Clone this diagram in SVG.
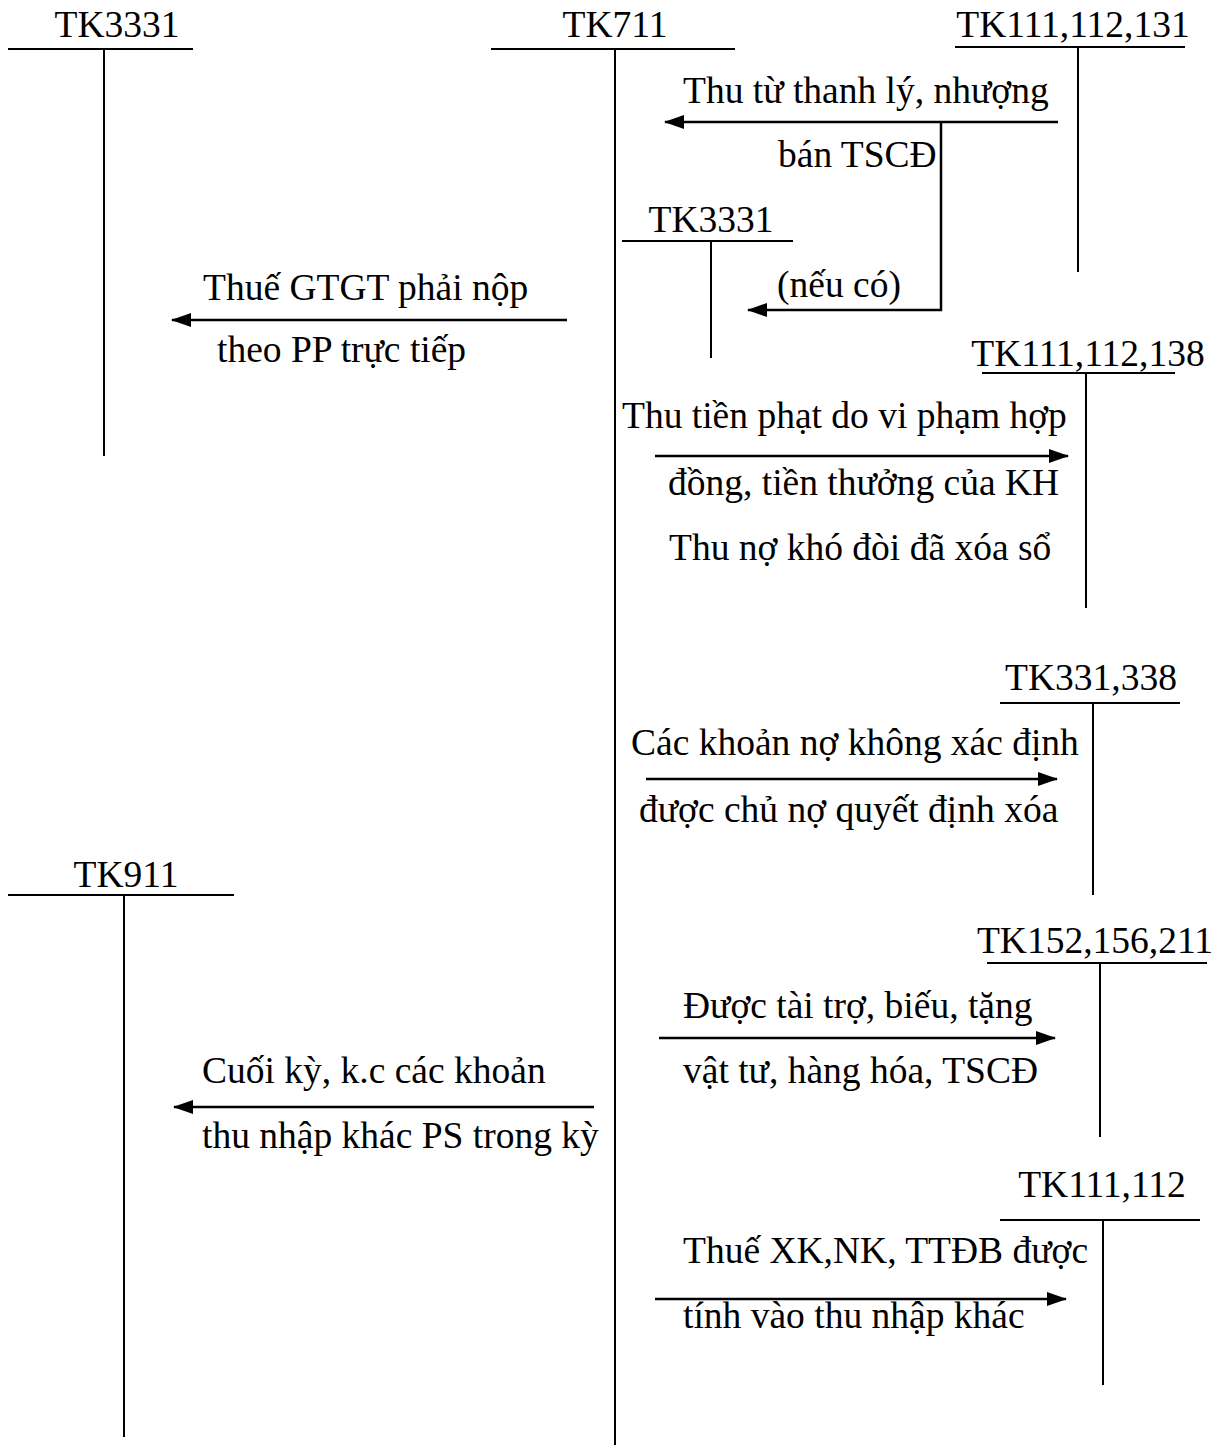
<svg xmlns="http://www.w3.org/2000/svg" width="1224" height="1447" viewBox="0 0 1224 1447">
<style>
text{font-family:"Liberation Serif","Times New Roman",serif;font-size:37.5px;fill:#000}
.t{stroke:#000;stroke-width:2;fill:none}
.c{stroke:#000;stroke-width:2.5;fill:none}
</style>
<defs>
<marker id="ah" markerWidth="20" markerHeight="14" refX="19" refY="7" orient="auto" markerUnits="userSpaceOnUse">
<path d="M0,0 L20,7 L0,14 Z" fill="#000"/>
</marker>
</defs>
<rect width="1224" height="1447" fill="#fff"/>
<g id="tk3331-left">
<text x="117" y="37" text-anchor="middle">TK3331</text>
<line class="t" x1="8" y1="49" x2="193" y2="49"/>
<line class="t" x1="104" y1="49" x2="104" y2="456"/>
</g>
<g id="tk711">
<text x="615" y="37" text-anchor="middle">TK711</text>
<line class="t" x1="491" y1="49" x2="735" y2="49"/>
<line class="t" x1="615" y1="49" x2="615" y2="1445"/>
</g>
<g id="tk111-112-131">
<text x="1073" y="37" text-anchor="middle">TK111,112,131</text>
<line class="t" x1="955" y1="47" x2="1185" y2="47"/>
<line class="t" x1="1078" y1="47" x2="1078" y2="272"/>
</g>
<g id="tk3331-small">
<text x="711" y="232" text-anchor="middle">TK3331</text>
<line class="t" x1="622" y1="241" x2="793" y2="241"/>
<line class="t" x1="711" y1="241" x2="711" y2="358"/>
</g>
<g id="tk111-112-138">
<text x="1088" y="366" text-anchor="middle">TK111,112,138</text>
<line class="t" x1="982" y1="373" x2="1175" y2="373"/>
<line class="t" x1="1086" y1="373" x2="1086" y2="608"/>
</g>
<g id="tk331-338">
<text x="1091" y="690" text-anchor="middle">TK331,338</text>
<line class="t" x1="1000" y1="703" x2="1180" y2="703"/>
<line class="t" x1="1093" y1="703" x2="1093" y2="895"/>
</g>
<g id="tk911">
<text x="126" y="887" text-anchor="middle">TK911</text>
<line class="t" x1="8" y1="895" x2="234" y2="895"/>
<line class="t" x1="124" y1="895" x2="124" y2="1437"/>
</g>
<g id="tk152-156-211">
<text x="1095" y="953" text-anchor="middle">TK152,156,211</text>
<line class="t" x1="987" y1="963" x2="1207" y2="963"/>
<line class="t" x1="1100" y1="963" x2="1100" y2="1137"/>
</g>
<g id="tk111-112">
<text x="1102" y="1197" text-anchor="middle">TK111,112</text>
<line class="t" x1="1000" y1="1220" x2="1200" y2="1220"/>
<line class="t" x1="1103" y1="1220" x2="1103" y2="1385"/>
</g>
<g id="connectors">
<line class="c" x1="1058" y1="122" x2="665" y2="122" marker-end="url(#ah)"/>
<polyline class="c" points="941,122 941,310 748,310" marker-end="url(#ah)"/>
<line class="c" x1="567" y1="320" x2="172" y2="320" marker-end="url(#ah)"/>
<line class="c" x1="655" y1="456" x2="1068" y2="456" marker-end="url(#ah)"/>
<line class="c" x1="646" y1="779" x2="1057" y2="779" marker-end="url(#ah)"/>
<line class="c" x1="659" y1="1038" x2="1055" y2="1038" marker-end="url(#ah)"/>
<line class="c" x1="594" y1="1107" x2="174" y2="1107" marker-end="url(#ah)"/>
<line class="c" x1="655" y1="1299" x2="1066" y2="1299" marker-end="url(#ah)"/>
</g>
<g id="labels">
<text x="683" y="103">Thu từ thanh lý, nhượng</text>
<text x="778" y="167">bán TSCĐ</text>
<text x="777" y="297">(nếu có)</text>
<text x="203" y="300">Thuế GTGT phải nộp</text>
<text x="217" y="362">theo PP trực tiếp</text>
<text x="622" y="428">Thu tiền phạt do vi phạm hợp</text>
<text x="668" y="495">đồng, tiền thưởng của KH</text>
<text x="669" y="560">Thu nợ khó đòi đã xóa sổ</text>
<text x="631" y="755">Các khoản nợ không xác định</text>
<text x="639" y="822">được chủ nợ quyết định xóa</text>
<text x="683" y="1018">Được tài trợ, biếu, tặng</text>
<text x="683" y="1083">vật tư, hàng hóa, TSCĐ</text>
<text x="202" y="1083">Cuối kỳ, k.c các khoản</text>
<text x="202" y="1148">thu nhập khác PS trong kỳ</text>
<text x="683" y="1263">Thuế XK,NK, TTĐB được</text>
<text x="683" y="1328">tính vào thu nhập khác</text>
</g>
</svg>
